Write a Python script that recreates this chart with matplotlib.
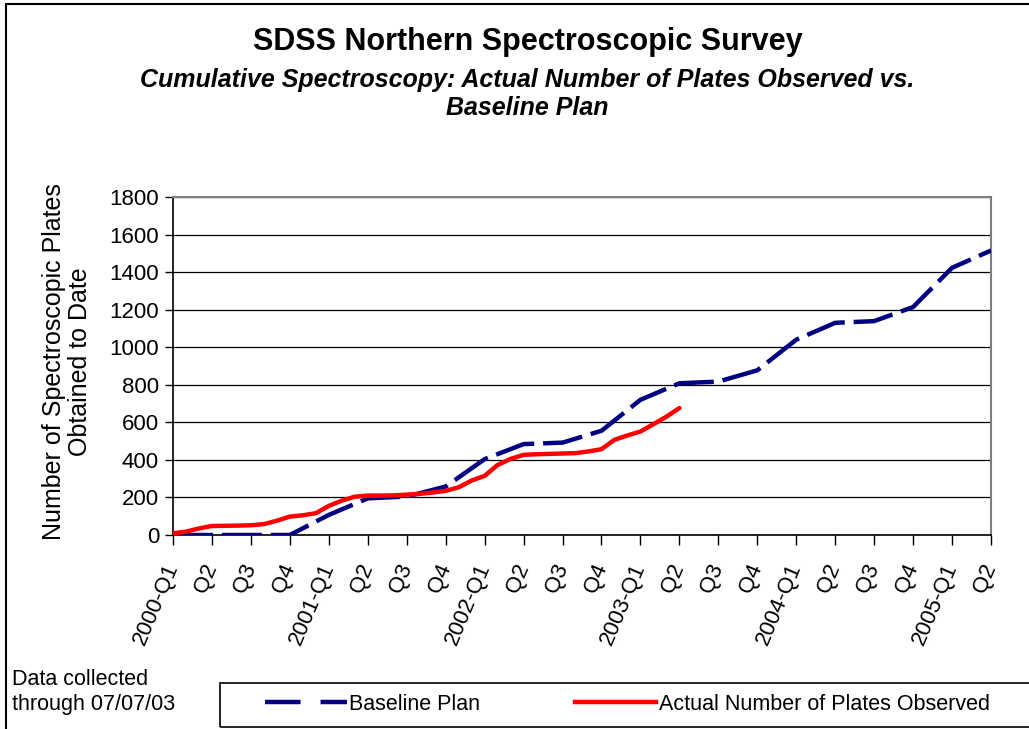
import matplotlib.pyplot as plt
import matplotlib.patches as mpatches
from matplotlib.lines import Line2D

plt.rcParams['font.family'] = ['Liberation Sans', 'DejaVu Sans']

# quarter tick labels, 2000-Q1 .. 2005-Q2
quarter_labels = ['2000-Q1', 'Q2', 'Q3', 'Q4',
                  '2001-Q1', 'Q2', 'Q3', 'Q4',
                  '2002-Q1', 'Q2', 'Q3', 'Q4',
                  '2003-Q1', 'Q2', 'Q3', 'Q4',
                  '2004-Q1', 'Q2', 'Q3', 'Q4',
                  '2005-Q1', 'Q2']

# baseline plan, one value per quarter
baseline = [0, 0, 0, 0, 107, 195, 205, 258, 404, 484, 492, 555,
            720, 808, 817, 877, 1040, 1130, 1139, 1214, 1423, 1515]

# actual plates observed, monthly from Jan 2000 to Apr 2003
actual_months = list(range(40))
actual = [9, 18, 35, 48, 49, 50, 52, 58, 76, 98, 105, 116,
          155, 183, 204, 210, 210, 211, 215, 219, 226, 235, 254, 290,
          315, 373, 405, 427, 430, 432, 434, 436, 445, 457, 507, 530,
          551, 590, 630, 676]

W, H = 1029, 729
fig = plt.figure(figsize=(W / 100, H / 100), dpi=100)

# outer chart frame (runs off the right and bottom edges)
fig.patches.append(mpatches.Rectangle((6 / W, -0.2), 1.2, 1.2 - 4 / H,
                                      transform=fig.transFigure, fill=False,
                                      edgecolor='black', lw=1.5))

ax = fig.add_axes([173 / W, 1 - 535 / H, (991 - 173) / W, (535 - 197) / H])

x_base = list(range(len(baseline)))
x_act = [m / 3 for m in actual_months]

ax.plot(x_base, baseline, color='#000080', lw=3.2, dashes=(9, 2),
        solid_capstyle='butt', dash_capstyle='butt', zorder=3)
ax.plot(x_act, actual, color='#ff0000', lw=3.2, solid_capstyle='round', zorder=4)

ax.set_xlim(0, 21)
ax.set_ylim(0, 1800)
ax.set_yticks(range(0, 1801, 200))
ax.set_xticks(x_base)
ax.set_xticklabels(quarter_labels, rotation=67, ha='right', va='center',
                   rotation_mode='anchor', fontsize=16)
ax.tick_params(axis='x', length=7, width=1, direction='out', pad=14)
ax.tick_params(axis='y', length=6, width=1, direction='out', labelsize=16, pad=4)
ax.grid(axis='y', color='black', lw=0.9)
ax.set_axisbelow(True)

for s in ['top', 'right']:
    ax.spines[s].set_color('#808080')
    ax.spines[s].set_linewidth(1.5)
for s in ['left', 'bottom']:
    ax.spines[s].set_color('black')
    ax.spines[s].set_linewidth(1.2)

fig.text(528 / W, 1 - 42 / H, 'SDSS Northern Spectroscopic Survey',
         ha='center', va='center', fontsize=22, fontweight='bold')
fig.text(527 / W, 1 - 94 / H,
         'Cumulative Spectroscopy: Actual Number of Plates Observed vs.\nBaseline Plan',
         ha='center', va='center', fontsize=18, fontweight='bold', style='italic',
         linespacing=1.25)
fig.text(67 / W, 1 - 362 / H, 'Number of Spectroscopic Plates\nObtained to Date',
         ha='center', va='center', rotation=90, fontsize=18, linespacing=1.1)
fig.text(12 / W, 1 - 692 / H, 'Data collected\nthrough 07/07/03',
         ha='left', va='center', fontsize=15.5, linespacing=1.2)

# legend box
fig.patches.append(mpatches.Rectangle((220 / W, 1 - 727 / H), 1.0, (727 - 683) / H,
                                      transform=fig.transFigure, fill=False,
                                      edgecolor='black', lw=1.2))

handles = [Line2D([], [], color='#000080', lw=3.2, dashes=(8, 4.5)),
           Line2D([], [], color='#ff0000', lw=3.2)]
fig.legend(handles, ['Baseline Plan', 'Actual Number of Plates Observed'],
           loc='center left', bbox_to_anchor=(265 / W, 1 - 704 / H), ncol=2,
           frameon=False, fontsize=15.5, handlelength=3.8, handletextpad=0.1,
           columnspacing=4.4, borderpad=0, borderaxespad=0)

fig.savefig('out.png', dpi=100)
